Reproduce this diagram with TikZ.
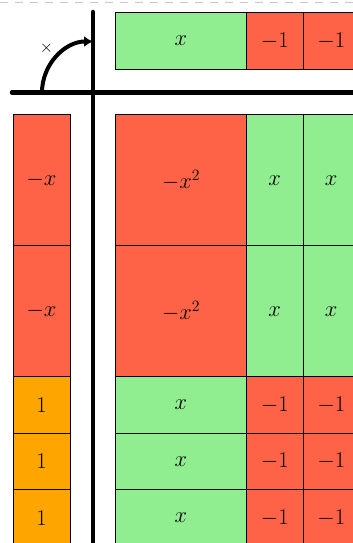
\RequirePackage{fix-cm}
\documentclass[tikz,border=0pt]{standalone}
\usepackage{amsmath}
\usepackage{xcolor}
\usepackage{tikz}
\usetikzlibrary{positioning,arrows.meta}
\definecolor{verde}{HTML}{90EE90}
\definecolor{rojo}{HTML}{FF6347}
\definecolor{naranja}{HTML}{FFA500}
\definecolor{borde}{HTML}{C8C8C8}

\begin{document}
\begin{tikzpicture}[
  x=1pt, y=-1pt,
  font=\fontsize{22.5}{27}\selectfont,
  ficha/.style={draw=black, line width=1pt, inner sep=0pt, outer sep=0pt},
  larga/.style={ficha, minimum width=131pt, minimum height=56.5pt},
  alta/.style={ficha, minimum width=56.5pt, minimum height=131pt},
  cuadro/.style={ficha, minimum width=131pt, minimum height=131pt},
  unidad/.style={ficha, minimum width=56.5pt, minimum height=56.5pt},
  eje/.style={line width=4.5pt, line cap=round},
  giro/.style={-{Latex[length=9pt,width=11pt]}, line width=4pt},
  node distance=0pt]
  \useasboundingbox (0,0) rectangle (353,543);
  \draw[borde, line width=1pt, dash pattern=on 8pt off 7pt] (0,2.5) -- (353,2.5);
  % factor de arriba
  \node[larga, fill=verde, anchor=north west] (fx) at (115.5,12.7) {$x$};
  \node[unidad, fill=rojo, right=of fx] (fu1) {$-1$};
  \node[unidad, fill=rojo, right=of fu1] (fu2) {$-1$};
  % factor de la izquierda
  \node[alta, fill=rojo, minimum width=57pt, anchor=north west] (iz1) at (13,114.7) {$-x$};
  \node[alta, fill=rojo, minimum width=57pt, below=of iz1] (iz2) {$-x$};
  \node[unidad, fill=naranja, minimum width=57pt, below=of iz2] (iz3) {$1$};
  \node[unidad, fill=naranja, minimum width=57pt, below=of iz3] (iz4) {$1$};
  \node[unidad, fill=naranja, minimum width=57pt, below=of iz4] (iz5) {$1$};
  % producto
  \node[cuadro, fill=rojo, anchor=north west] (a1) at (115.5,114.7) {$-x^2$};
  \node[alta, fill=verde, right=of a1] (b1) {$x$};
  \node[alta, fill=verde, right=of b1] (c1) {$x$};
  \node[cuadro, fill=rojo, below=of a1] (a2) {$-x^2$};
  \node[alta, fill=verde, right=of a2] (b2) {$x$};
  \node[alta, fill=verde, right=of b2] (c2) {$x$};
  \foreach \i/\j in {3/2,4/3,5/4} {
    \node[larga, fill=verde, below=of a\j] (a\i) {$x$};
    \node[unidad, fill=rojo, right=of a\i] (b\i) {$-1$};
    \node[unidad, fill=rojo, right=of b\i] (c\i) {$-1$};
  }
  % ejes
  \coordinate (O) at (93,92.5);
  \coordinate (ejeI) at (12,92.5);
  \coordinate (ejeD) at (370,92.5);
  \coordinate (ejeA) at (93,12);
  \coordinate (ejeB) at (93,560);
  \draw[eje] (ejeI) -- (ejeD);
  \draw[eje] (ejeA) -- (ejeB);
  \draw[giro] ([xshift=-51pt]O) arc[start angle=180, end angle=270, radius=51];
  \node[font=\fontsize{17}{19}\selectfont] (por) at (46.5,48.5) {$\times$};
\end{tikzpicture}
\end{document}
